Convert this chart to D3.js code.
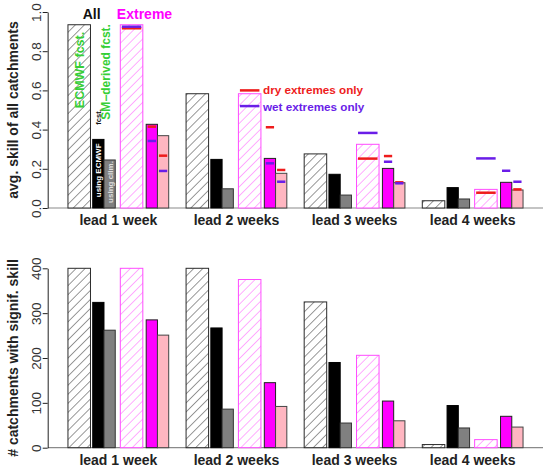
<!DOCTYPE html>
<html>
<head>
<meta charset="utf-8">
<script src="https://cdn.jsdelivr.net/npm/d3@7"></script>
<style>
  body { margin: 0; background: #fff; }
  text { font-family: "Liberation Sans", Arial, Helvetica, sans-serif; }
</style>
</head>
<body>
<svg id="chart" width="554" height="473"></svg>
<script>
const leads = ["lead 1 week", "lead 2 weeks", "lead 3 weeks", "lead 4 weeks"];

// top panel: avg. skill of all catchments
const skillAllEcmwf = [0.935, 0.583, 0.276, 0.037];
const skillAllSmEcmwf = [0.35, 0.248, 0.172, 0.104];
const skillAllSmClim = [0.245, 0.098, 0.066, 0.046];
const skillExtEcmwf = [0.935, 0.583, 0.325, 0.095];
const skillExtSmEcmwf = [0.427, 0.253, 0.202, 0.131];
const skillExtSmClim = [0.369, 0.177, 0.129, 0.092];

// dry / wet extremes only (markers on the extreme bars)
const dryExtEcmwf = [0.917, 0.6, 0.252, 0.078];
const wetExtEcmwf = [0.925, 0.52, 0.383, 0.253];
const dryExtSmEcmwf = [0.415, 0.412, 0.265, null];
const wetExtSmEcmwf = [0.342, 0.228, 0.236, 0.19];
const dryExtSmClim = [0.267, 0.194, 0.131, 0.095];
const wetExtSmClim = [0.189, 0.134, 0.126, 0.134];

// bottom panel: # catchments with signif. skill
const nAllEcmwf = [400, 400, 325, 7];
const nAllSmEcmwf = [324, 267, 190, 94];
const nAllSmClim = [262, 86, 55, 44];
const nExtEcmwf = [400, 375, 206, 18];
const nExtSmEcmwf = [285, 145, 104, 70];
const nExtSmClim = [251, 92, 60, 46];

const skillTicks = [0, 0.2, 0.4, 0.6, 0.8, 1.0];
const countTicks = [0, 100, 200, 300, 400];

const RED = "#ee1c1c", BLUE = "#6a1de8", GREEN = "#36cf36", MAG = "#ff00ff";

// bar layout inside one lead group (units)
const series = [
  {pos: 0,    w: 2, fill: "url(#hatchK)", stroke: "#2a2a2a"},
  {pos: 2.2,  w: 1, fill: "#000",         stroke: "#000"},
  {pos: 3.2,  w: 1, fill: "#808080",      stroke: "#333"},
  {pos: 4.65, w: 2, fill: "url(#hatchM)", stroke: "#ff4cff"},
  {pos: 6.95, w: 1, fill: MAG,            stroke: "#222"},
  {pos: 7.95, w: 1, fill: "#ffb6c1",      stroke: "#444"}
];

const svg = d3.select("#chart");
const defs = svg.append("defs");
function hatch(id, col, sw) {
  const p = defs.append("pattern").attr("id", id)
    .attr("patternUnits", "userSpaceOnUse")
    .attr("width", 6.4).attr("height", 6.4)
    .attr("patternTransform", "rotate(45)");
  p.append("rect").attr("width", 6.4).attr("height", 6.4).attr("fill", "#fff");
  p.append("line").attr("x1", 0).attr("y1", 0).attr("x2", 0).attr("y2", 6.4)
    .attr("stroke", col).attr("stroke-width", sw);
}
hatch("hatchK", "#333", 1);
hatch("hatchM", "#ff5cff", 1);

const x = d3.scaleBand().domain(leads).range([48, 543])
  .paddingInner(0.147).paddingOuter(0.169);
const inner = d3.scaleLinear().domain([0, 8.95]).range([0, x.bandwidth()]);

const yTop = d3.scaleLinear().domain([0, 1]).range([208, 12]);
const yBot = d3.scaleLinear().domain([0, 400]).range([447.7, 268.3]);

function panel(y, data, ticks, fmt, title, labelY) {
  const g = svg.append("g");

  // baseline
  g.append("line")
    .attr("x1", 48).attr("x2", 543)
    .attr("y1", y(0)).attr("y2", y(0))
    .attr("stroke", "#8a8a8a").attr("stroke-width", 1.2);

  data.forEach((vals, si) => {
    const s = series[si];
    g.selectAll(null).data(vals).enter().append("rect")
      .attr("x", (d, i) => x(leads[i]) + inner(s.pos))
      .attr("width", inner(s.w))
      .attr("y", d => y(d))
      .attr("height", d => y(0) - y(d))
      .attr("fill", s.fill)
      .attr("stroke", s.stroke)
      .attr("stroke-width", 1);
  });

  const ax = g.append("g").attr("transform", "translate(47.7,0)")
    .call(d3.axisLeft(y).tickValues(ticks).tickSize(5).tickSizeOuter(0).tickFormat(fmt));
  ax.select(".domain").attr("stroke", "#222");
  ax.selectAll(".tick line").attr("stroke", "#222");
  ax.selectAll(".tick text")
    .attr("x", null).attr("dy", null)
    .attr("transform", "translate(-6.5,0) rotate(-90)")
    .attr("text-anchor", "middle")
    .attr("font-size", 13.5)
    .attr("font-family", "Liberation Sans, Arial, sans-serif")
    .attr("fill", "#333");

  g.append("text")
    .attr("transform", `translate(18,${(y(0) + y.range()[1]) / 2 + 0}) rotate(-90)`)
    .attr("text-anchor", "middle")
    .attr("font-size", 14).attr("font-weight", "bold").attr("fill", "#222")
    .text(title);

  g.selectAll(null).data(leads).enter().append("text")
    .attr("x", d => x(d) + x.bandwidth() / 2)
    .attr("y", labelY)
    .attr("text-anchor", "middle")
    .attr("font-size", 14).attr("font-weight", "bold").attr("fill", "#222")
    .text(d => d);
  return g;
}

panel(yTop, [skillAllEcmwf, skillAllSmEcmwf, skillAllSmClim, skillExtEcmwf, skillExtSmEcmwf, skillExtSmClim],
  skillTicks, d3.format(".1f"), "avg. skill of all catchments", 225);
panel(yBot, [nAllEcmwf, nAllSmEcmwf, nAllSmClim, nExtEcmwf, nExtSmEcmwf, nExtSmClim],
  countTicks, d3.format("d"), "# catchments with signif. skill", 465);

// dry / wet markers
const markers = [
  {si: 3, vals: dryExtEcmwf, col: RED}, {si: 3, vals: wetExtEcmwf, col: BLUE},
  {si: 4, vals: dryExtSmEcmwf, col: RED}, {si: 4, vals: wetExtSmEcmwf, col: BLUE},
  {si: 5, vals: dryExtSmClim, col: RED}, {si: 5, vals: wetExtSmClim, col: BLUE}
];
const mg = svg.append("g");
markers.forEach(m => {
  const s = series[m.si];
  mg.selectAll(null).data(m.vals.map((v, i) => ({v, i})).filter(d => d.v != null))
    .enter().append("line")
    .attr("x1", d => x(leads[d.i]) + inner(s.pos) + 1.5)
    .attr("x2", d => x(leads[d.i]) + inner(s.pos + s.w) - 1.5)
    .attr("y1", d => yTop(d.v)).attr("y2", d => yTop(d.v))
    .attr("stroke", m.col).attr("stroke-width", 2.5);
});

// annotations
const l1 = x(leads[0]);
const ann = svg.append("g").attr("font-weight", "bold");
ann.append("text").attr("x", l1 + inner(2.1)).attr("y", 19)
  .attr("text-anchor", "middle").attr("font-size", 14).attr("fill", "#111").text("All");
ann.append("text").attr("x", l1 + inner(6.8)).attr("y", 19)
  .attr("text-anchor", "middle").attr("font-size", 14).attr("fill", MAG).text("Extreme");

function vtext(cx, cy, size, col, anchor, str) {
  ann.append("text")
    .attr("transform", `translate(${cx},${cy}) rotate(-90)`)
    .attr("text-anchor", anchor).attr("font-size", size).attr("fill", col).text(str);
}
vtext(l1 + inner(1) + 4.3, yTop(0.704), 12.5, GREEN, "middle", "ECMWF fcst.");
vtext(l1 + inner(3.2) + 5.8, yTop(0.45), 12, GREEN, "start", "SM\u2212derived fcst.");
vtext(l1 + inner(2.7) + 2.5, yTop(0.425), 7.5, "#111", "start", "fcst.");
vtext(l1 + inner(2.7) + 3, yTop(0.055), 8, "#fff", "start", "using ECMWF");
vtext(l1 + inner(3.7) + 3, yTop(0.026), 8, "#ddd", "start", "using clim.");

ann.append("text").attr("x", 263).attr("y", 93.5).attr("font-size", 11.7)
  .attr("fill", RED).text("dry extremes only");
ann.append("text").attr("x", 263).attr("y", 111).attr("font-size", 11.7)
  .attr("fill", BLUE).text("wet extremes only");
</script>
</body>
</html>
